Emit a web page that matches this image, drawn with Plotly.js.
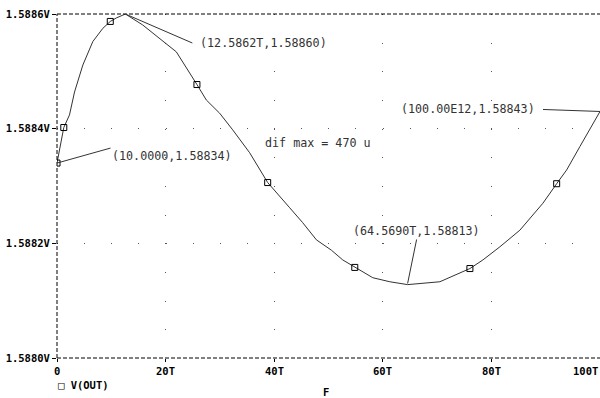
<!DOCTYPE html>
<html>
<head>
<meta charset="utf-8">
<script src="https://cdn.plot.ly/plotly-3.0.1.min.js"></script>
<style>html,body{margin:0;padding:0;background:#fff;}#chart{width:600px;height:398px;}</style>
</head>
<body>
<div id="chart"></div>
<script>
// Frequency / time axis in units of T (1e12)
var xT = [0, 1.25, 2.30, 3.23, 4.76, 6.60, 8.44, 9.81, 10.91, 12.59, 15.76, 18.89, 21.97, 25.77, 27.50, 29.95, 32.35, 35.48, 38.80, 42.86, 45.25, 47.78, 50.54, 52.63, 54.84, 58.16, 61.29, 64.57, 70.51, 73.58, 76.04, 78.43, 81.57, 85.25, 89.49, 92.02, 93.86, 96.31, 100];
var vOut = [1.58834, 1.588402, 1.588424, 1.588464, 1.588511, 1.588552, 1.588575, 1.588587, 1.588593, 1.58860, 1.588581, 1.588558, 1.588534, 1.588477, 1.58845, 1.588427, 1.588398, 1.588358, 1.588306, 1.588262, 1.588236, 1.588206, 1.588188, 1.588171, 1.588158, 1.588140, 1.588133, 1.588128, 1.588133, 1.588145, 1.588156, 1.588171, 1.588194, 1.588223, 1.58827, 1.588304, 1.588328, 1.588369, 1.58843];
var markerIdx = [0, 1, 7, 13, 18, 24, 30, 35];

var xTickVals = [0, 20, 40, 60, 80, 100];
var xTickText = ['0', '20T', '40T', '60T', '80T', '100T'];
var yTickVals = [1.5880, 1.5882, 1.5884, 1.5886];
var yTickText = ['1.5880V', '1.5882V', '1.5884V', '1.5886V'];

// cursor labels: [x, y, text]
var cursorX = [0, 12.5862, 64.5690, 100];
var cursorY = [1.58834, 1.58860, 1.58813, 1.58843];
var cursorText = ['(10.0000,1.58834)', ' (12.5862T,1.58860)', '(64.5690T,1.58813)', '(100.00E12,1.58843) '];
var seriesName = 'V(OUT)';
var difText = 'dif max = 470 u';
var xTitle = 'F';

var mkX = markerIdx.map(function(i){return xT[i];});
var mkY = markerIdx.map(function(i){return vOut[i];});

var labelFont = {family: 'DejaVu Sans Mono', size: 11.7, color: '#333'};
var tickFont = {family: 'DejaVu Sans Mono', size: 10.5, color: '#000', weight: 700};

var traces = [
  {x: xT, y: vOut, mode: 'lines', line: {color: '#333', width: 1}, showlegend: false, hoverinfo: 'skip'},
  {x: mkX, y: mkY, mode: 'markers', name: seriesName, marker: {symbol: 'square-open', size: 6, color: '#000', line: {width: 1, color: '#000'}}, showlegend: false, hoverinfo: 'skip'}
];

var arrowOpts = [
  {ax: 53.5, ay: -15, xanchor: 'left', yanchor: 'top'},
  {ax: 67, ay: 29, xanchor: 'left', yanchor: 'middle'},
  {ax: 9, ay: -44, xanchor: 'center', yanchor: 'bottom'},
  {ax: -57, ay: -2, xanchor: 'right', yanchor: 'middle'}
];

var annotations = [];
for (var i = 0; i < cursorX.length; i++) {
  annotations.push({
    x: cursorX[i], y: cursorY[i], xref: 'x', yref: 'y', text: cursorText[i],
    showarrow: true, arrowhead: 0, arrowwidth: 1, arrowcolor: '#333', standoff: 0, startstandoff: 0,
    ax: arrowOpts[i].ax, ay: arrowOpts[i].ay, xanchor: arrowOpts[i].xanchor, yanchor: arrowOpts[i].yanchor,
    font: labelFont, borderpad: 0
  });
}
annotations.push({x: 0.3788, y: 0.625, xref: 'paper', yref: 'paper', text: difText, showarrow: false, xanchor: 'left', yanchor: 'middle', font: labelFont});
for (var j = 0; j < xTickVals.length; j++) {
  annotations.push({x: xTickVals[j], y: 0, xref: 'x', yref: 'paper', text: xTickText[j], showarrow: false,
    xanchor: j === xTickVals.length - 1 ? 'right' : 'center', yanchor: 'top', yshift: -5, font: tickFont});
}
annotations.push({x: 0, y: 0, xref: 'paper', yref: 'paper', text: '\u25A1 ' + seriesName, showarrow: false, xanchor: 'left', yanchor: 'top', yshift: -19, xshift: -1, font: tickFont});
annotations.push({x: 0.495, y: 0, xref: 'paper', yref: 'paper', text: xTitle, showarrow: false, xanchor: 'center', yanchor: 'top', yshift: -27, borderpad: 0, font: tickFont});

var frameLine = {color: '#000', width: 1, dash: '4px,2px'};
var shapes = [
  {type: 'line', xref: 'paper', yref: 'paper', x0: 0, x1: 0, y0: 0, y1: 1, line: frameLine, layer: 'above'},
  {type: 'line', xref: 'paper', yref: 'paper', x0: 0, x1: 1, y0: 1, y1: 1, line: frameLine, layer: 'above'},
  {type: 'line', xref: 'paper', yref: 'paper', x0: 0, x1: 1, y0: 0, y1: 0, line: frameLine, layer: 'above'}
];

var layout = {
  width: 600, height: 398,
  margin: {l: 57, r: 0, t: 14, b: 40, pad: 0},
  paper_bgcolor: '#fff', plot_bgcolor: '#fff',
  showlegend: false,
  xaxis: {range: [0, 100], tickvals: xTickVals, ticktext: xTickVals.map(function(){return '';}),
    ticks: 'outside', ticklen: 3, tickcolor: '#000', tickwidth: 1,
    showgrid: true, gridcolor: '#555', gridwidth: 1, griddash: '1px,27.68px',
    zeroline: false, showline: false},
  yaxis: {range: [1.5880, 1.5886], tickvals: yTickVals, ticktext: yTickText,
    ticks: 'outside', ticklen: 4, tickcolor: '#000', tickwidth: 1, tickfont: tickFont,
    showgrid: true, gridcolor: '#555', gridwidth: 1, griddash: '1px,26.13px',
    zeroline: false, showline: false},
  annotations: annotations,
  shapes: shapes
};

Plotly.newPlot('chart', traces, layout, {displayModeBar: false, staticPlot: true});
</script>
</body>
</html>
